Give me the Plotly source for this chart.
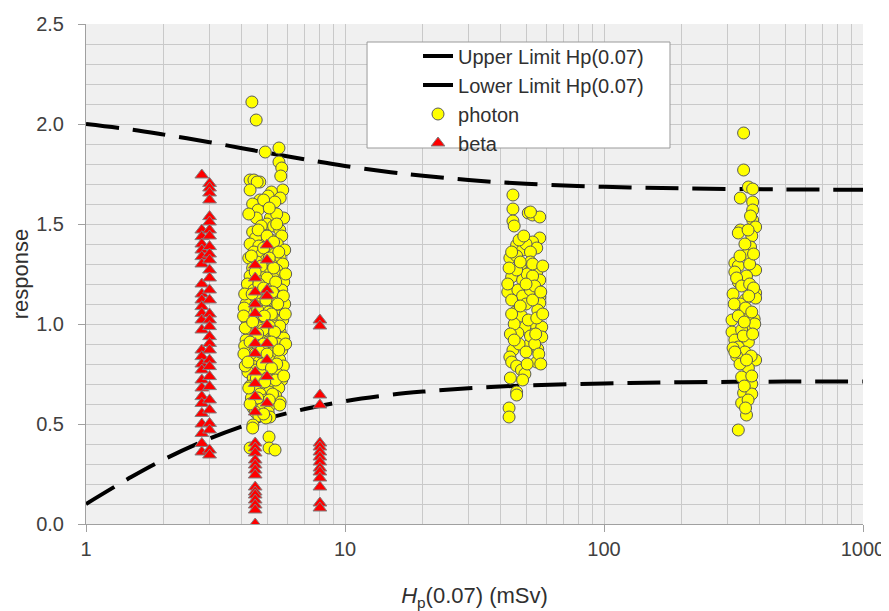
import plotly.graph_objects as go

# ---------------- data ----------------
limit_x = [1, 1.5, 2, 3, 4, 5, 7, 10, 15, 20, 30, 50, 100, 200, 500, 1000]
upper_y = [2.00, 1.972, 1.947, 1.909, 1.879, 1.856, 1.823, 1.790, 1.759, 1.741,
           1.720, 1.701, 1.686, 1.678, 1.673, 1.671]
lower_y = [0.10, 0.236, 0.323, 0.427, 0.488, 0.527, 0.575, 0.614, 0.646, 0.662,
           0.679, 0.693, 0.703, 0.709, 0.712, 0.713]

# photon results around 5 mSv
photon_5 = [
    (4.37, 2.11), (4.54, 2.02), (4.92, 1.86), (5.56, 1.88), (5.56, 1.81), (5.70, 1.78), (5.65, 1.74),
    (4.30, 1.72), (4.45, 1.72), (4.69, 1.71), (4.58, 1.71), (5.75, 1.67), (4.30, 1.67), (5.20, 1.66),
    (5.62, 1.63), (4.69, 1.62), (4.40, 1.60), (5.05, 1.64), (4.95, 1.59), (5.36, 1.61),
    (4.62, 1.57), (4.55, 1.53), (5.80, 1.53), (5.15, 1.53), (4.25, 1.55), (5.45, 1.55), (5.00, 1.50),
    (4.75, 1.49), (5.30, 1.49), (5.60, 1.47), (4.40, 1.46), (4.88, 1.44), (5.70, 1.44), (4.52, 1.43),
    (5.20, 1.42), (4.30, 1.40), (5.48, 1.40), (4.65, 1.39), (5.05, 1.38), (5.85, 1.37),
    (4.45, 1.36), (4.78, 1.35), (5.35, 1.35), (5.62, 1.33), (4.25, 1.33), (4.95, 1.32), (4.58, 1.31),
    (5.18, 1.30), (5.75, 1.30), (4.40, 1.28), (4.85, 1.27), (5.45, 1.27), (5.05, 1.26), (4.68, 1.25),
    (5.60, 1.24), (4.30, 1.24), (5.28, 1.23), (4.55, 1.22), (4.95, 1.21), (5.80, 1.21),
    (4.20, 1.20), (4.75, 1.19), (5.15, 1.19), (5.50, 1.18), (4.45, 1.17), (5.70, 1.17), (4.88, 1.15),
    (5.35, 1.15), (4.60, 1.14), (5.00, 1.13), (4.30, 1.13), (5.62, 1.12), (5.22, 1.11), (4.15, 1.10),
    (4.72, 1.10), (5.85, 1.10), (4.50, 1.09), (5.42, 1.08), (4.95, 1.07), (5.08, 1.06),
    (4.35, 1.05), (4.62, 1.04), (5.55, 1.04), (5.30, 1.03), (4.18, 1.02), (4.80, 1.02), (5.75, 1.02),
    (4.48, 1.00), (5.00, 1.00), (5.45, 0.99), (4.68, 0.98), (5.15, 0.97), (4.28, 0.96), (5.62, 0.96),
    (4.90, 0.95), (4.55, 0.94), (5.32, 0.94), (5.80, 0.93), (4.15, 0.92), (4.75, 0.92),
    (5.05, 0.91), (4.42, 0.90), (5.50, 0.90), (4.62, 0.89), (4.95, 0.88), (5.25, 0.87), (4.18, 0.87),
    (5.70, 0.87), (4.50, 0.85), (4.82, 0.84), (5.40, 0.84), (4.30, 0.83), (5.10, 0.82), (5.60, 0.82),
    (4.65, 0.81), (4.40, 0.79), (4.95, 0.79), (5.30, 0.78), (5.78, 0.79), (4.55, 0.77),
    (4.22, 0.76), (5.15, 0.76), (4.75, 0.75), (5.50, 0.75), (4.42, 0.73), (5.00, 0.73), (5.70, 0.72),
    (4.62, 0.71), (5.28, 0.70), (4.30, 0.69), (4.85, 0.68), (5.55, 0.68), (4.50, 0.67), (5.10, 0.66),
    (4.70, 0.65), (5.40, 0.64), (4.35, 0.63), (4.95, 0.62), (5.62, 0.61), (4.58, 0.60),
    (5.20, 0.60), (4.42, 0.58), (4.80, 0.58), (5.60, 0.595), (4.50, 0.56), (5.05, 0.56), (4.65, 0.54),
    (5.13, 0.535), (4.95, 0.53), (4.41, 0.495), (4.40, 0.48), (5.09, 0.435), (4.30, 0.38), (5.09, 0.38),
    (5.37, 0.37),
    (4.08, 1.08), (4.06, 1.04), (4.10, 0.89), (4.07, 0.85), (4.12, 0.98), (4.10, 1.15), (4.12, 0.79),
    (4.85, 1.62), (5.10, 1.58), (5.45, 1.50), (4.62, 1.47), (5.00, 1.44), (5.30, 1.41), (4.85, 1.38),
    (5.55, 1.36), (4.35, 1.34), (5.10, 1.33), (4.75, 1.29), (5.30, 1.28), (4.50, 1.26), (5.90, 1.25),
    (5.00, 1.23), (4.65, 1.20), (5.40, 1.21), (4.85, 1.18), (5.25, 1.16), (4.38, 1.15), (5.78, 1.14),
    (4.95, 1.12), (5.50, 1.10), (4.60, 1.07), (5.20, 1.05), (4.88, 1.04), (5.88, 1.05), (4.40, 1.01),
    (5.60, 0.99), (5.10, 0.99), (4.82, 0.97), (5.35, 0.96), (4.60, 0.95), (5.90, 0.90), (4.85, 0.90),
    (5.20, 0.91), (4.30, 0.91), (5.55, 0.87), (4.70, 0.86), (5.00, 0.85), (4.22, 0.81), (5.45, 0.80),
    (4.80, 0.80), (5.20, 0.78), (4.55, 0.73), (5.40, 0.72), (4.90, 0.71), (5.80, 0.74), (4.25, 0.68),
    (5.25, 0.65), (4.60, 0.63), (5.10, 0.62), (4.30, 0.60), (4.85, 0.55),
]

# photon results around 50 mSv
photon_50 = [
    (44.5, 1.645), (44.5, 1.575), (44.5, 1.515), (45.0, 1.49), (51.0, 1.555), (53.0, 1.545), (56.5, 1.535),
    (52.0, 1.56), (56.5, 1.43), (53.0, 1.41), (46.0, 1.395), (48.5, 1.37), (55.0, 1.38), (50.0, 1.40),
    (43.3, 1.33), (46.0, 1.34), (48.0, 1.30), (52.0, 1.36), (52.0, 1.31), (44.0, 1.36), (47.0, 1.42),
    (49.0, 1.44), (55.0, 1.26), (44.0, 1.235), (56.5, 1.22), (48.5, 1.22), (50.5, 1.25), (46.0, 1.27),
    (53.0, 1.24), (42.5, 1.16), (46.5, 1.17), (48.5, 1.14), (52.0, 1.17), (56.5, 1.135), (56.5, 1.105),
    (55.5, 1.07), (45.5, 1.06), (48.0, 1.04), (50.0, 1.10), (44.0, 1.12), (53.0, 1.12), (42.5, 1.20),
    (54.0, 1.19), (47.5, 1.09), (53.0, 1.005), (57.5, 0.985), (49.5, 0.985), (46.5, 0.955), (57.5, 0.935),
    (51.5, 0.895), (44.5, 0.87), (55.5, 0.875), (43.3, 0.835), (44.0, 0.81), (55.0, 0.81), (46.0, 0.79),
    (48.0, 0.77), (49.5, 0.75), (48.5, 0.72), (46.0, 0.66), (46.0, 0.645), (43.0, 0.58), (43.0, 0.535),
    (45.0, 1.00), (51.0, 1.02), (55.0, 1.03), (43.5, 0.95), (52.0, 0.94), (54.0, 0.90), (47.0, 0.90),
    (43.5, 0.73), (56.0, 0.85), (50.0, 0.86), (45.0, 0.92), (58.0, 1.05), (57.0, 1.16), (53.0, 1.30),
    (43.0, 1.28), (50.0, 1.20), (58.0, 1.29), (47.5, 1.31), (54.5, 0.95), (57.0, 0.80), (50.5, 0.80),
    (44.0, 1.05),
]

# photon results around 350 mSv
photon_350 = [
    (346, 1.955), (346, 1.77), (361, 1.685), (375, 1.675), (336, 1.63), (375, 1.61), (375, 1.57),
    (375, 1.52), (385, 1.485), (336, 1.47), (330, 1.455), (372, 1.44), (368, 1.385), (355, 1.345),
    (320, 1.305), (330, 1.29), (385, 1.27), (320, 1.26), (330, 1.21), (355, 1.24), (385, 1.155),
    (315, 1.15), (350, 1.12), (385, 1.13), (336, 1.10), (346, 1.055), (312, 1.02), (380, 1.025),
    (361, 0.99), (312, 0.96), (340, 0.97), (320, 0.92), (361, 0.91), (330, 0.885), (385, 0.82),
    (361, 0.78), (340, 0.735), (372, 0.70), (346, 0.655), (372, 0.65), (340, 0.605), (355, 0.545),
    (330, 0.47), (325, 1.23), (340, 1.19), (365, 1.20), (378, 1.18), (318, 1.10), (352, 1.08),
    (372, 1.06), (330, 1.04), (382, 1.00), (345, 0.94), (375, 0.95), (315, 0.88), (350, 0.86),
    (325, 0.84), (370, 0.84), (335, 0.80), (355, 0.82), (320, 0.86), (348, 1.01), (362, 1.14),
    (335, 1.34), (365, 1.30), (378, 1.35), (360, 1.47), (368, 1.54), (350, 1.40), (372, 0.74),
    (348, 0.69), (360, 0.62), (352, 0.58),
]

# beta results
beta_3 = [
    (2.8, 1.745), (2.8, 1.47), (2.8, 1.437), (2.8, 1.40), (2.8, 1.37), (2.8, 1.337), (2.8, 1.30),
    (2.8, 1.20), (2.8, 1.15), (2.8, 1.12), (2.8, 1.087), (2.8, 1.053), (2.8, 1.02), (2.8, 0.97),
    (2.8, 0.87), (2.8, 0.837), (2.8, 0.80), (2.8, 0.77), (2.8, 0.72), (2.8, 0.68), (2.8, 0.637),
    (2.8, 0.603), (2.8, 0.553), (2.8, 0.50), (2.8, 0.453), (2.8, 0.403), (2.8, 0.36),
    (3.0, 1.703), (3.0, 1.68), (3.0, 1.655), (3.0, 1.62), (3.0, 1.537), (3.0, 1.51), (3.0, 1.47),
    (3.0, 1.44), (3.0, 1.387), (3.0, 1.35), (3.0, 1.32), (3.0, 1.27), (3.0, 1.23), (3.0, 1.17),
    (3.0, 1.12), (3.0, 1.05), (3.0, 1.02), (3.0, 0.987), (3.0, 0.937), (3.0, 0.903), (3.0, 0.87),
    (3.0, 0.82), (3.0, 0.787), (3.0, 0.737), (3.0, 0.687), (3.0, 0.62), (3.0, 0.57), (3.0, 0.503),
    (3.0, 0.47), (3.0, 0.37), (3.0, 0.345),
]
beta_5 = [
    (4.5, 1.295), (4.5, 1.23), (4.5, 1.16), (4.5, 1.10), (4.5, 1.053), (4.5, 0.96), (4.5, 0.903),
    (4.5, 0.853), (4.5, 0.76), (4.5, 0.703), (4.5, 0.637), (4.5, 0.56), (4.5, 0.405), (4.5, 0.38),
    (4.5, 0.355), (4.5, 0.32), (4.5, 0.295), (4.5, 0.27), (4.5, 0.245), (4.5, 0.185), (4.5, 0.16),
    (4.5, 0.145), (4.5, 0.12), (4.5, 0.095), (4.5, 0.07), (4.5, 0.0),
    (5.0, 1.395), (5.0, 1.32), (5.0, 1.17), (5.0, 1.14), (5.0, 0.995), (5.0, 0.903), (5.0, 0.82),
    (5.0, 0.737), (5.0, 0.605),
]
beta_8 = [
    (8.0, 1.02), (8.0, 0.99), (8.0, 0.645), (8.0, 0.595), (8.0, 0.405), (8.0, 0.385), (8.0, 0.36),
    (8.0, 0.335), (8.0, 0.31), (8.0, 0.28), (8.0, 0.26), (8.0, 0.23), (8.0, 0.185), (8.0, 0.105),
    (8.0, 0.08),
]

x_ticks = [1, 10, 100, 1000]
x_tick_text = ["1", "10", "100", "1000"]

photon_pts = photon_5 + photon_50 + photon_350
beta_pts = beta_3 + beta_5 + beta_8

# ---------------- figure ----------------
FONT = "Arial, 'Liberation Sans', sans-serif"
GRID = "#c9c9c9"

fig = go.Figure()
fig.add_trace(go.Scatter(
    x=limit_x, y=upper_y, mode="lines", name="Upper Limit Hp(0.07)",
    line=dict(color="black", width=4, dash="33px,14px", shape="spline"),
))
fig.add_trace(go.Scatter(
    x=limit_x, y=lower_y, mode="lines", name="Lower Limit Hp(0.07)",
    line=dict(color="black", width=4, dash="33px,14px", shape="spline"),
))
fig.add_trace(go.Scatter(
    x=[p[0] for p in photon_pts], y=[p[1] for p in photon_pts], mode="markers", name="photon",
    marker=dict(symbol="circle", size=12, color="#ffff00", line=dict(color="#5a5a5a", width=1)),
))
fig.add_trace(go.Scatter(
    x=[p[0] for p in beta_pts], y=[p[1] for p in beta_pts], mode="markers", name="beta",
    marker=dict(symbol="triangle-up", size=12, color="#ff0000", line=dict(color="#808080", width=1)),
))

# legend frame
fig.add_shape(type="rect", xref="paper", yref="paper",
              x0=0.3617, x1=0.7516, y0=0.752, y1=0.964,
              fillcolor="white", line=dict(color="#9a9a9a", width=1), layer="above")

# the page body adds an 8 px offset, so the figure is 8 px smaller and margins shifted
fig.update_layout(
    width=881, height=603,
    margin=dict(l=78, r=26, t=16, b=87, autoexpand=False),
    paper_bgcolor="white", plot_bgcolor="#f0f0f0",
    font=dict(family=FONT, size=20, color="#404040"),
    showlegend=True,
    legend=dict(x=0.4273, y=0.975, xanchor="left", yanchor="top",
                bgcolor="rgba(0,0,0,0)", borderwidth=0,
                font=dict(family=FONT, size=20, color="#303030")),
    xaxis=dict(
        type="log", range=[0, 3], automargin=False,
        tickvals=x_ticks, ticktext=x_tick_text,
        showgrid=True, gridcolor=GRID, gridwidth=1,
        minor=dict(tickvals=[2, 3, 4, 5, 6, 7, 8, 9, 20, 30, 40, 50, 60, 70, 80, 90,
                             200, 300, 400, 500, 600, 700, 800, 900],
                   showgrid=True, gridcolor=GRID, gridwidth=1, ticks=""),
        showline=True, linecolor="#a0a0a0", linewidth=1,
        ticks="outside", ticklen=7, tickcolor="#a0a0a0",
        zeroline=False,
        title=dict(text="<i>H</i><sub>p</sub>(0.07) (mSv)", font=dict(size=22, color="#303030"),
                   standoff=29),
    ),
    yaxis=dict(
        range=[0, 2.5], dtick=0.5, tickformat=".1f", automargin=False,
        showgrid=True, gridcolor=GRID, gridwidth=1,
        minor=dict(dtick=0.1, showgrid=True, gridcolor=GRID, gridwidth=1, ticks=""),
        showline=True, linecolor="#a0a0a0", linewidth=1,
        ticks="outside", ticklen=7, tickcolor="#a0a0a0",
        ticklabelstandoff=10,
        zeroline=False,
        title=dict(text="response", font=dict(size=22, color="#303030"), standoff=6),
    ),
)

fig.write_html("out.html")
